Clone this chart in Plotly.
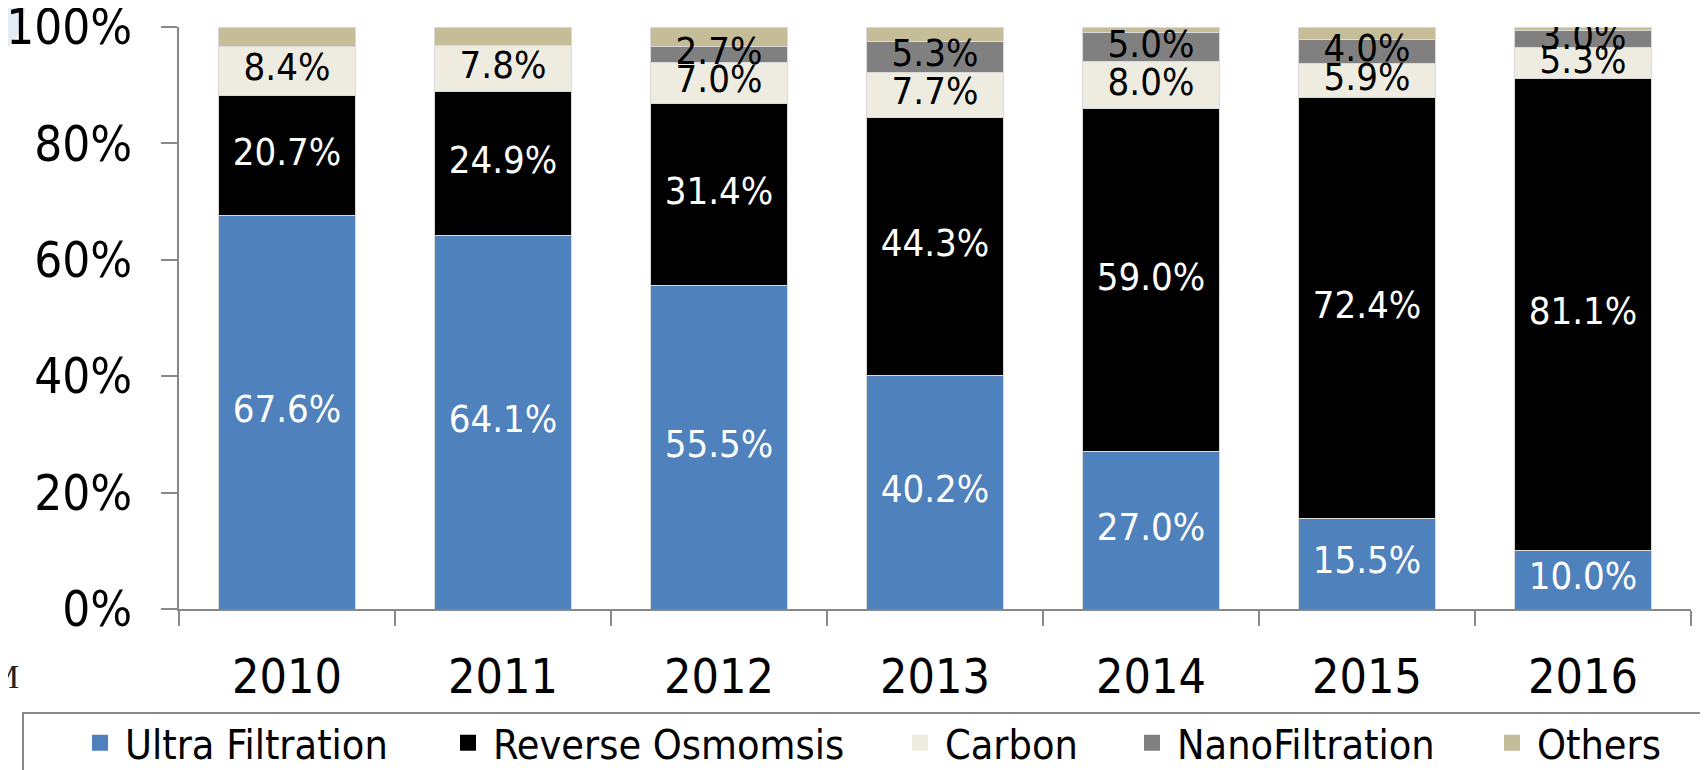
import plotly.graph_objects as go

years = ["2010", "2011", "2012", "2013", "2014", "2015", "2016"]
ultra_filtration = [67.6, 64.1, 55.5, 40.2, 27.0, 15.5, 10.0]
reverse_osmosis = [20.7, 24.9, 31.4, 44.3, 59.0, 72.4, 81.1]
carbon = [8.4, 7.8, 7.0, 7.7, 8.0, 5.9, 5.3]
nano_filtration = [0.0, 0.0, 2.7, 5.3, 5.0, 4.0, 3.0]
others = [3.3, 3.2, 3.4, 2.5, 1.0, 2.2, 0.6]
y_ticks = [0, 20, 40, 60, 80, 100]
y_tick_labels = ["0%", "20%", "40%", "60%", "80%", "100%"]

series = [
    ("Ultra Filtration", ultra_filtration, "#4F81BD", "white", True),
    ("Reverse Osmomsis", reverse_osmosis, "#000000", "white", True),
    ("Carbon", carbon, "#EEECE1", "black", True),
    ("NanoFiltration", nano_filtration, "#808080", "black", True),
    ("Others", others, "#C4BD97", "black", False),
]

FONT = "DejaVu Sans Condensed, DejaVu Sans, sans-serif"

# the page body has an 8px margin: the figure starts at (8, 8) in the window
OFF = 8
W, H = 1708 - OFF, 770 - OFF
# plot area in window pixels
X0, X1, Y0, Y1 = 179, 1691, 27, 609
L, R, T, B = X0 - OFF, (W + OFF) - X1, Y0 - OFF, (H + OFF) - Y1
PW = X1 - X0
PH = Y1 - Y0


def px_x(px):
    return (px - X0) / PW


def px_y(py):
    return (Y1 - py) / PH


fig = go.Figure()
legend_ids = ["legend", "legend2", "legend3", "legend4", "legend5"]
label_traces = []
base = [0.0] * len(years)
for i, (name, vals, color, tcolor, show_text) in enumerate(series):
    fig.add_trace(go.Bar(
        x=years, y=vals, name=name, showlegend=False,
        marker=dict(color=color, line=dict(color="#d9d9d9", width=1)),
        hoverinfo="skip",
    ))
    if show_text:
        mids = [b + v / 2 for b, v in zip(base, vals)]
        texts = [f"{v:.1f}%" if v > 0 else "" for v in vals]
        label_traces.append(go.Scatter(
            x=years, y=mids, text=texts, mode="text",
            textposition="middle center",
            textfont=dict(family=FONT, size=38, color=tcolor),
            showlegend=False, hoverinfo="skip", cliponaxis=True,
        ))
    base = [b + v for b, v in zip(base, vals)]
    # legend entry
    fig.add_trace(go.Scatter(
        x=[None], y=[None], mode="markers", name=name,
        marker=dict(symbol="square", size=20, color=color, line=dict(width=0)),
        legend=legend_ids[i], showlegend=True, hoverinfo="skip",
    ))

for tr in label_traces:
    fig.add_trace(tr)

legend_centers = [100, 468, 920, 1152, 1512]
layout_legends = {}
for lid, cx in zip(legend_ids, legend_centers):
    layout_legends[lid] = dict(
        x=px_x(cx - 25), xanchor="left", y=px_y(743), yanchor="middle",
        orientation="h", bgcolor="rgba(0,0,0,0)", borderwidth=0,
        font=dict(family=FONT, size=41, color="black"), itemwidth=40,
    )

fig.update_layout(
    width=W, height=H,
    margin=dict(l=L, r=R, t=T, b=B, autoexpand=False),
    paper_bgcolor="white", plot_bgcolor="white",
    barmode="stack", bargap=0.37,
    **layout_legends,
    xaxis=dict(
        type="category", range=[-0.5, 6.5], tickson="boundaries",
        ticks="outside", ticklen=15, tickwidth=2, tickcolor="#888888",
        showline=True, linecolor="#888888", linewidth=2,
        showgrid=False, zeroline=False, automargin=False,
        tickfont=dict(family=FONT, size=48, color="black"),
        ticklabelstandoff=24,
    ),
    xaxis2=dict(
        overlaying="x", anchor="y", side="bottom", range=[-0.5, 6.5],
        tickmode="array", tickvals=[i - 0.5 for i in range(8)],
        ticks="inside", ticklen=16, tickwidth=2, tickcolor="#888888",
        showticklabels=False, showline=False, showgrid=False, zeroline=False,
    ),
    yaxis=dict(
        range=[0, 100], tickmode="array", tickvals=y_ticks, ticktext=y_tick_labels,
        ticks="outside", ticklen=16, tickwidth=2, tickcolor="#888888",
        showline=True, linecolor="#888888", linewidth=2,
        showgrid=False, zeroline=False, automargin=False,
        tickfont=dict(family=FONT, size=49, color="black"),
        ticklabelstandoff=19, ticklabeloverflow="allow",
    ),
    yaxis2=dict(
        overlaying="y", anchor="x", side="left", range=[0, 100],
        tickmode="array", tickvals=y_ticks,
        ticks="inside", ticklen=14, tickwidth=2, tickcolor="#888888",
        showticklabels=False, showline=False, showgrid=False, zeroline=False,
    ),
    shapes=[
        dict(type="rect", xref="paper", yref="paper",
             x0=px_x(23), x1=px_x(1730), y0=px_y(713), y1=px_y(800),
             line=dict(color="#888888", width=2), fillcolor="rgba(0,0,0,0)",
             layer="below"),
        dict(type="circle", xref="paper", yref="paper",
             x0=px_x(-50), x1=px_x(25), y0=px_y(55), y1=px_y(-40),
             line=dict(width=0), fillcolor="#dde8f4", opacity=0.8,
             layer="below"),
    ],
    annotations=[
        dict(text="M", xref="paper", yref="paper", x=px_x(21), y=px_y(676),
             xanchor="right", yanchor="middle", showarrow=False,
             font=dict(family="Liberation Serif, serif", size=34, color="#222222")),
    ],
)

fig.write_html("out.html")
